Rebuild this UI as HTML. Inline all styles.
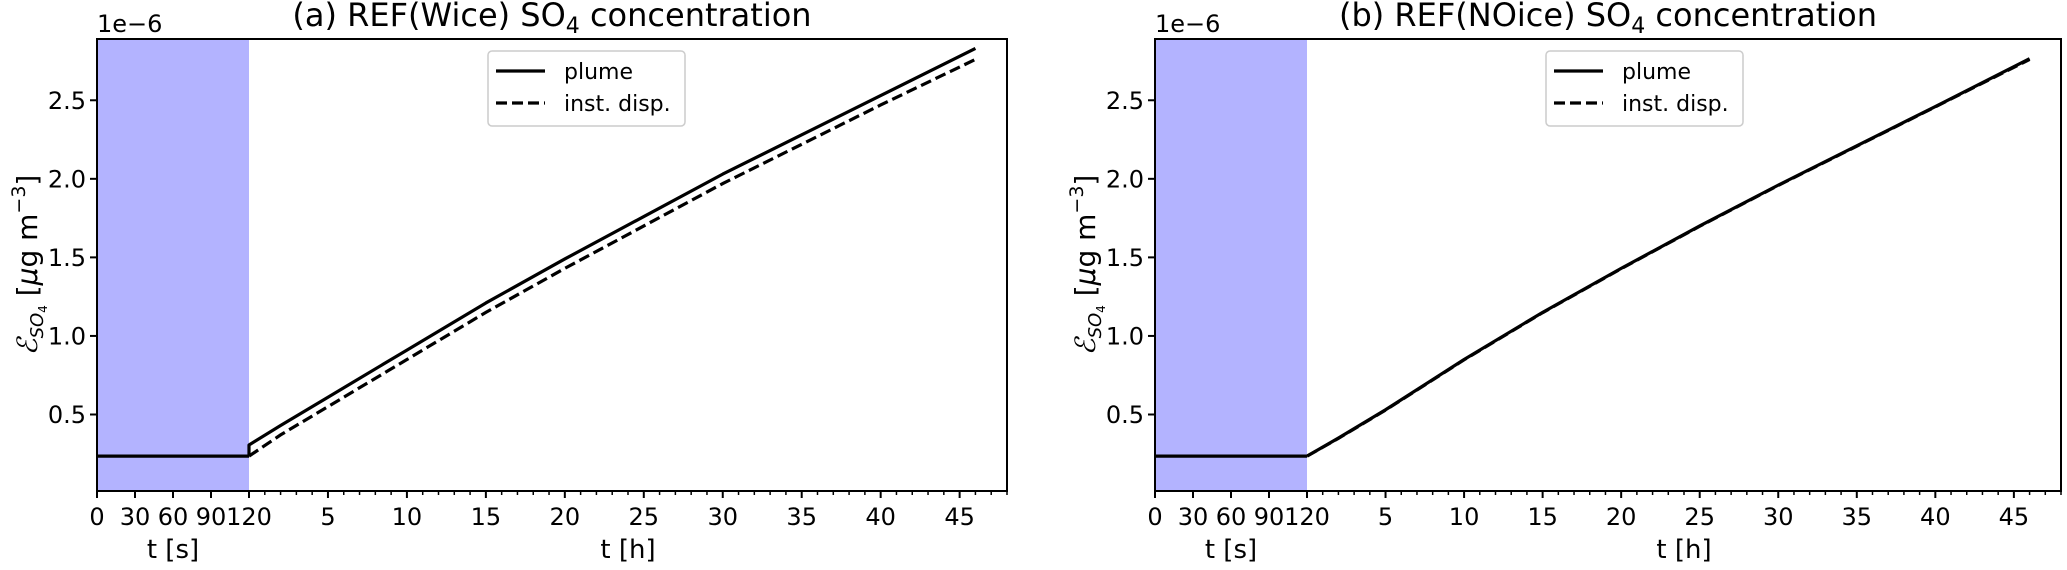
<!DOCTYPE html>
<html><head><meta charset="utf-8">
<style>
body{margin:0;background:#fff;}
svg text{font-family:"DejaVu Sans","Liberation Sans",sans-serif;fill:#000;}
</style></head>
<body>
<svg id="fig" width="2067" height="565" viewBox="0 0 2067 565" xmlns="http://www.w3.org/2000/svg"></svg>
<script>
const hours = [0, 2, 5, 10, 15, 20, 25, 30, 35, 40, 46];
const secTimes = [0, 30, 60, 90, 120];
const secValuesA = [0.235, 0.235, 0.235, 0.235, 0.235];
const secValuesB = [0.235, 0.235, 0.235, 0.235, 0.235];
const plumeA = [0.306, 0.43, 0.61, 0.91, 1.21, 1.49, 1.76, 2.03, 2.28, 2.53, 2.83];
const dispA = [0.235, 0.37, 0.55, 0.85, 1.15, 1.43, 1.70, 1.97, 2.22, 2.47, 2.76];
const plumeB = [0.235, 0.35, 0.53, 0.85, 1.15, 1.43, 1.70, 1.96, 2.21, 2.46, 2.765];
const dispB = [0.235, 0.348, 0.528, 0.848, 1.148, 1.428, 1.698, 1.958, 2.208, 2.458, 2.76];
const yTicks = [0.5, 1.0, 1.5, 2.0, 2.5];
const yTickLabels = ["0.5", "1.0", "1.5", "2.0", "2.5"];
const secTickLabels = ["0", "30", "60", "90", "120"];
const hourMajor = [5, 10, 15, 20, 25, 30, 35, 40, 45];
const titles = ["(a) REF(Wice) SO", "(b) REF(NOice) SO"];

const NS = "http://www.w3.org/2000/svg";
const svg = document.getElementById('fig');
function mk(tag, attrs, parent, text){
  const e = document.createElementNS(NS, tag);
  for (const k in attrs) e.setAttribute(k, attrs[k]);
  if (text !== undefined) e.textContent = text;
  (parent || svg).appendChild(e);
  return e;
}
const TOP = 39, BOT = 491, YMAX = 2.89, YMIN = 0.013;
function yS(v){ return TOP + (YMAX - v) / (YMAX - YMIN) * (BOT - TOP); }

function panel(x0, x1, idx, plume, disp, secVals){
  const xs0 = x0, xs1 = x0 + 152;
  const pxH = (x1 - xs1) / 48;
  const xSec = s => xs0 + s / 120 * (xs1 - xs0);
  const xHr = h => xs1 + h * pxH;
  const g = mk('g', {});
  
  

  const sh = mk('rect', {x: xs0, y: TOP, width: xs1 - xs0, height: BOT - TOP, fill: '#b3b3ff'}, g);
  
  

  // seconds segment
  let d = secTimes.map((s, i) => (i ? 'L' : 'M') + xSec(s) + ' ' + yS(secVals[i])).join(' ');
  const ps = mk('path', {d: d, fill: 'none', stroke: '#000', 'stroke-width': 3.2}, g);
  
  

  let dp = 'M' + xs1 + ' ' + yS(secVals[secVals.length - 1]) + ' ' + hours.map(h => '').join('');
  dp += hours.map((h, i) => 'L' + xHr(h) + ' ' + yS(plume[i])).join(' ');
  const pl = mk('path', {d: dp, fill: 'none', stroke: '#000', 'stroke-width': 3.2, 'stroke-linejoin': 'round'}, g);
  
  

  const dd = hours.map((h, i) => (i ? 'L' : 'M') + xHr(h) + ' ' + yS(disp[i])).join(' ');
  const dl = mk('path', {d: dd, fill: 'none', stroke: '#000', 'stroke-width': 3.2, 'stroke-dasharray': '11 5'}, g);
  
  

  const fr = mk('rect', {x: x0, y: TOP, width: x1 - x0, height: BOT - TOP, fill: 'none', stroke: '#000', 'stroke-width': 2}, g);
  
  

  // y ticks
  yTicks.forEach((v, i) => {
    mk('line', {x1: x0 - 7, x2: x0, y1: yS(v), y2: yS(v), stroke: '#000', 'stroke-width': 2}, g);
    const t = mk('text', {x: x0 - 11, y: yS(v) + 8.5, 'font-size': 24, 'text-anchor': 'end'}, g, yTickLabels[i]);
    
    
  });
  // x second ticks
  secTimes.forEach((s, i) => {
    mk('line', {x1: xSec(s), x2: xSec(s), y1: BOT, y2: BOT + 7, stroke: '#000', 'stroke-width': 2}, g);
    const t = mk('text', {x: xSec(s), y: 525, 'font-size': 24, 'text-anchor': 'middle'}, g, secTickLabels[i]);
    
    
  });
  for (let h = 1; h <= 48; h++) {
    if (h % 5 === 0) continue;
    mk('line', {x1: xHr(h), x2: xHr(h), y1: BOT, y2: BOT + 4, stroke: '#000', 'stroke-width': 1.5}, g);
  }
  hourMajor.forEach(h => {
    mk('line', {x1: xHr(h), x2: xHr(h), y1: BOT, y2: BOT + 7, stroke: '#000', 'stroke-width': 2}, g);
    const t = mk('text', {x: xHr(h), y: 525, 'font-size': 24, 'text-anchor': 'middle'}, g, String(h));
    
    
  });
  const xl1 = mk('text', {x: (xs0 + xs1) / 2, y: 558, 'font-size': 26, 'text-anchor': 'middle'}, g, 't [s]');
  
  
  const xl2 = mk('text', {x: (xs1 + x1) / 2, y: 558, 'font-size': 26, 'text-anchor': 'middle'}, g, 't [h]');
  
  

  const off = mk('text', {x: x0, y: 32, 'font-size': 24}, g, '1e\u22126');
  
  

  const ti = mk('text', {x: (x0 + x1) / 2, y: 26, 'font-size': 32, 'text-anchor': 'middle'}, g);
  
  
  mk('tspan', {}, ti, titles[idx]);
  mk('tspan', {'font-size': 22, dy: 7}, ti, '4');
  mk('tspan', {dy: -7}, ti, ' concentration');

  // y label
  const yl = mk('text', {transform: `translate(${x0 - 60},265) rotate(-90)`, 'font-size': 28, 'text-anchor': 'middle'}, g);
  
  
  mk('tspan', {'font-style': 'italic', 'font-family': 'DejaVu Serif, serif'}, yl, '\u2130');
  mk('tspan', {'font-size': 18, dy: 6, 'font-style': 'italic'}, yl, 'SO');
  mk('tspan', {'font-size': 12, dy: 4}, yl, '4');
  mk('tspan', {dy: -10}, yl, ' [');
  mk('tspan', {'font-style': 'italic'}, yl, '\u03bc');
  mk('tspan', {}, yl, 'g m');
  mk('tspan', {'font-size': 19, dy: -12}, yl, '\u22123');
  mk('tspan', {dy: 12}, yl, ']');

  // legend
  const lx = x0 + 391;
  const lg = mk('g', {}, g);
  
  
  mk('rect', {x: lx, y: 51, width: 197, height: 75, rx: 4, fill: '#fff', 'fill-opacity': 0.8, stroke: '#ccc', 'stroke-width': 1.5}, lg);
  mk('line', {x1: lx + 8, x2: lx + 57, y1: 71, y2: 71, stroke: '#000', 'stroke-width': 3.2}, lg);
  mk('line', {x1: lx + 8, x2: lx + 57, y1: 103, y2: 103, stroke: '#000', 'stroke-width': 3.2, 'stroke-dasharray': '11 5'}, lg);
  const e1 = mk('text', {x: lx + 76, y: 79, 'font-size': 22}, lg, 'plume');
  
  
  const e2 = mk('text', {x: lx + 76, y: 111, 'font-size': 22}, lg, 'inst. disp.');
  
  
}
panel(97, 1007, 0, plumeA, dispA, secValuesA);
panel(1155, 2061, 1, plumeB, dispB, secValuesB);
</script>
</body></html>
